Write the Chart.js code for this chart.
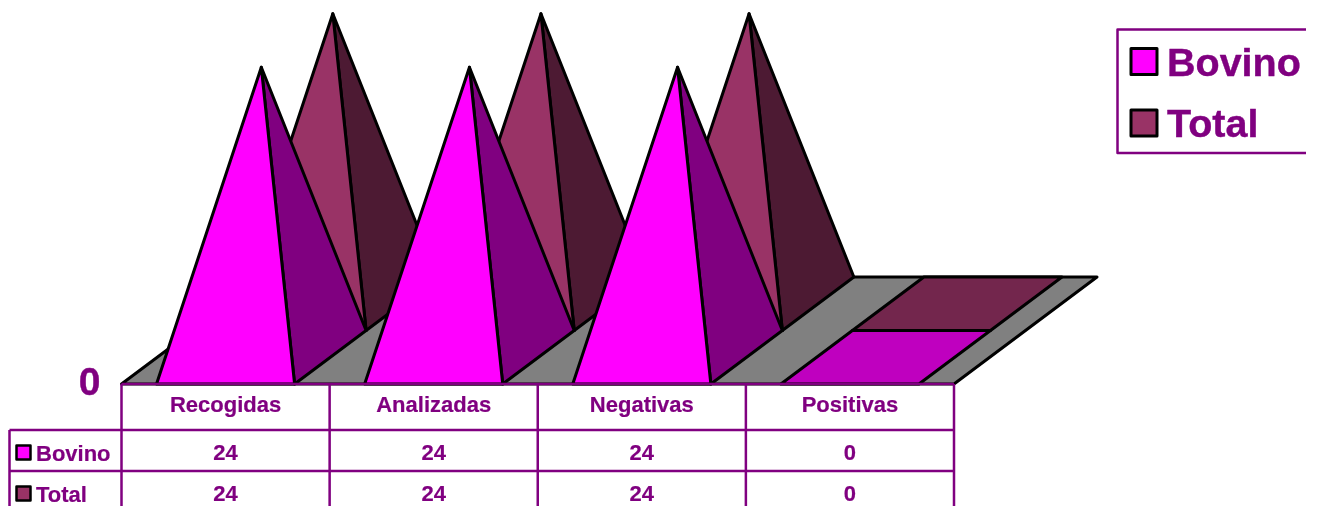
<!DOCTYPE html>
<html><head><meta charset="utf-8">
<style>html,body{margin:0;padding:0;background:#fff;overflow:hidden}#w{position:relative;width:1318px;height:506px}</style>
<script src="https://cdn.jsdelivr.net/npm/chart.js@4"></script>
</head><body><div id="w"><canvas id="c" width="1318" height="506"></canvas></div>
<script>
const categories = ['Recogidas','Analizadas','Negativas','Positivas'];
const bovino = [24,24,24,0];
const total = [24,24,24,0];
const seriesNames = ['Bovino','Total'];
const tickValues = [0];
const PURPLE = '#800080', FONT = '"Liberation Sans", Arial, sans-serif';
const styles = [
  {front:'#FF00FF', side:'#800080', flat:'#BF00BF'},
  {front:'#993366', side:'#4D1A33', flat:'#73264D'}
];
const DX = 71.5, DY = 53.5; // oblique depth of one series row

function poly(ctx, pts, fill){
  ctx.beginPath();
  pts.forEach((p,i)=> i ? ctx.lineTo(p[0],p[1]) : ctx.moveTo(p[0],p[1]));
  ctx.closePath();
  if(fill){ctx.fillStyle=fill;ctx.fill();}
  ctx.stroke();
}
function heavyText(ctx, t, x, y, w){
  ctx.strokeStyle=PURPLE; ctx.lineWidth=w; ctx.lineJoin='round';
  ctx.fillStyle=PURPLE; ctx.fillText(t,x,y); ctx.strokeText(t,x,y);
}
const pyramids = {
  id:'pyramids',
  beforeDatasetsDraw(chart){
    const {ctx, chartArea:a} = chart, y0 = chart.scales.y.getPixelForValue(0);
    ctx.save();
    ctx.strokeStyle='#000'; ctx.lineWidth=3; ctx.lineJoin='round';
    poly(ctx,[[a.left,y0],[a.right,y0],[a.right+DX*2,y0-DY*2],[a.left+DX*2,y0-DY*2]],'#808080');
    for(let s=1;s>=0;s--){
      const st=styles[s], ox=DX*s, oy=DY*s;
      chart.getDatasetMeta(s).data.forEach(bar=>{
        const l=bar.x-bar.width/2+ox, r=bar.x+bar.width/2+ox, b=bar.base-oy, h=bar.base-bar.y;
        if(h===0){
          poly(ctx,[[l,b],[r,b],[r+DX,b-DY],[l+DX,b-DY]],st.flat);
        }else{
          const apex=[(l+r+DX)/2, b-DY/2-h];
          poly(ctx,[[r,b],[r+DX,b-DY],apex],st.side);
          poly(ctx,[[l,b],[r,b],apex],st.front);
        }
      });
    }
    ctx.restore();
  },
  afterDraw(chart){
    const {ctx, chartArea:a} = chart, x=chart.scales.x, y0=chart.scales.y.getPixelForValue(0);
    ctx.save();
    const rows=[y0,430,471,514], left=9.5;
    ctx.strokeStyle=PURPLE; ctx.lineWidth=2.5;
    ctx.beginPath();
    rows.forEach((y,i)=>{ctx.moveTo(i===0?a.left:left,y);ctx.lineTo(a.right,y);});
    const w=(a.right-a.left)/categories.length;
    for(let i=0;i<=categories.length;i++){ctx.moveTo(a.left+w*i,y0);ctx.lineTo(a.left+w*i,514);}
    ctx.moveTo(left,430);ctx.lineTo(left,514);
    ctx.stroke();
    ctx.font='bold 22px '+FONT; ctx.textBaseline='alphabetic';
    const base=[459.5,500.5], labelBase=[461,502], markY=[445.5,486.5];
    chart.data.datasets.forEach((d,s)=>{
      ctx.textAlign='center';
      d.data.forEach((v,i)=>heavyText(ctx,String(v),x.getPixelForTick(i),base[s],0.2));
      ctx.textAlign='left';
      heavyText(ctx,d.label,36,labelBase[s],0.2);
      ctx.strokeStyle='#000';ctx.lineWidth=2.5;ctx.fillStyle=styles[s].front;
      ctx.fillRect(16.5,markY[s],14,14);ctx.strokeRect(16.5,markY[s],14,14);
    });
    ctx.strokeStyle=PURPLE;ctx.lineWidth=2.5;
    ctx.beginPath();ctx.moveTo(1306,29.5);ctx.lineTo(1117.5,29.5);ctx.lineTo(1117.5,153);ctx.lineTo(1306,153);ctx.stroke();
    ctx.font='bold 39.5px '+FONT;
    const ly=[48.5,110], lb=[76,137];
    seriesNames.forEach((n,s)=>{
      ctx.fillStyle=styles[s].front;ctx.strokeStyle='#000';ctx.lineWidth=3;
      ctx.fillRect(1131,ly[s],26,26);ctx.strokeRect(1131,ly[s],26,26);
      heavyText(ctx,n,1167,lb[s],0.4);
    });
    ctx.restore();
  }
};
new Chart(document.getElementById('c'),{
  type:'bar',
  data:{labels:categories,datasets:[
    {label:seriesNames[0],data:bovino,grouped:false,backgroundColor:'rgba(0,0,0,0)',barPercentage:138/208,categoryPercentage:1},
    {label:seriesNames[1],data:total,grouped:false,backgroundColor:'rgba(0,0,0,0)',barPercentage:138/208,categoryPercentage:1}
  ]},
  options:{
    responsive:false,animation:false,events:[],
    layout:{padding:{left:0,right:364,top:94,bottom:0}},
    plugins:{legend:{display:false},tooltip:{enabled:false},title:{display:false}},
    scales:{
      x:{grid:{display:false},border:{display:false},
         ticks:{color:PURPLE,font:{family:FONT,size:22,weight:'bold'},padding:1,maxRotation:0,autoSkip:false,textStrokeColor:PURPLE,textStrokeWidth:0.2},
         afterFit(s){s.height=122;}},
      y:{min:0,max:24,grid:{display:false},border:{display:false},
         afterBuildTicks(s){s.ticks=tickValues.map(v=>({value:v}));},
         ticks:{color:PURPLE,font:{family:FONT,size:39,weight:'bold'},padding:13,textStrokeColor:PURPLE,textStrokeWidth:0.4},
         afterFit(s){s.width=121.5;}}
    }
  },
  plugins:[pyramids]
});
</script></body></html>
